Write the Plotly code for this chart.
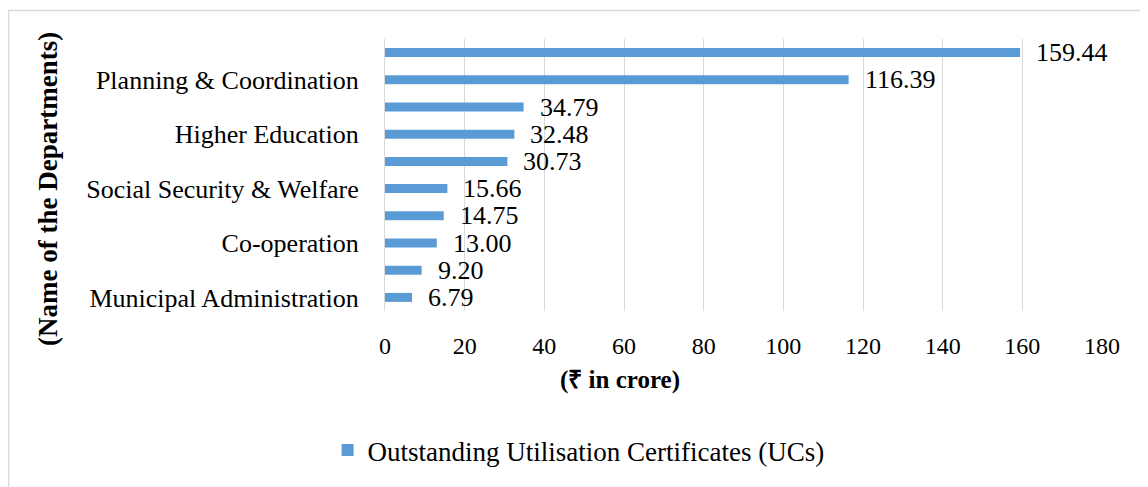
import plotly.graph_objects as go

# Data (top to bottom as in the chart); labels not printed on the axis are placeholders
departments = [
    "Department (label hidden) 1",
    "Planning & Coordination",
    "Department (label hidden) 2",
    "Higher Education",
    "Department (label hidden) 3",
    "Social Security & Welfare",
    "Department (label hidden) 4",
    "Co-operation",
    "Department (label hidden) 5",
    "Municipal Administration",
]
outstanding_ucs = [159.44, 116.39, 34.79, 32.48, 30.73, 15.66, 14.75, 13.00, 9.20, 6.79]
shown_labels = ["Planning & Coordination", "Higher Education", "Social Security & Welfare",
                "Co-operation", "Municipal Administration"]
x_ticks = [0, 20, 40, 60, 80, 100, 120, 140, 160, 180]

FONT = "Liberation Serif, Times New Roman, serif"
BAR = "#5b9bd5"

cats = departments[::-1]
vals = outstanding_ucs[::-1]

fig = go.Figure()
fig.add_trace(go.Bar(
    x=vals, y=cats, orientation="h", width=0.33,
    marker=dict(color=BAR, line=dict(width=0)),
    name="Outstanding Utilisation Certificates (UCs)",
))

for c, v in zip(cats, vals):
    fig.add_annotation(x=v, y=c, text=f"{v:.2f}", showarrow=False,
                       xanchor="left", yanchor="middle", xshift=14,
                       font=dict(family=FONT, size=26, color="#000"))

fig.update_xaxes(range=[0, 180], tickvals=x_ticks, showgrid=True, gridcolor="#d9d9d9",
                 gridwidth=1, zeroline=False, showline=False, automargin=False,
                 tickfont=dict(family=FONT, size=24, color="#000"), ticklabelstandoff=18)
fig.update_yaxes(categoryorder="array", categoryarray=cats, tickvals=shown_labels,
                 showgrid=False, showline=True, linecolor="#d9d9d9", linewidth=1,
                 automargin=False,
                 tickfont=dict(family=FONT, size=26, color="#000"), ticklabelstandoff=20,
                 range=[-0.5, 9.5])

fig.add_annotation(xref="paper", yref="paper", x=0.328, y=-0.255, text="<b>(₹ in crore)</b>",
                   xanchor="center", yanchor="middle",
                   showarrow=False, font=dict(family=FONT, size=25, color="#000"))
fig.add_annotation(xref="paper", yref="paper", x=-0.471, y=0.45,
                   xanchor="center", yanchor="middle",
                   text="<b>(Name of the Departments)</b>", textangle=-90,
                   showarrow=False, font=dict(family=FONT, size=27, color="#000"))

fig.add_shape(type="rect", xref="paper", yref="paper", x0=-0.525, x1=1.2, y0=-0.8, y1=1.105,
              line=dict(color="#d9d9d9", width=1.5), fillcolor="rgba(0,0,0,0)", layer="below")

fig.update_layout(
    width=1140, height=479,
    margin=dict(l=377, r=46, t=31, b=173),
    plot_bgcolor="white", paper_bgcolor="white",
    showlegend=True,
    legend=dict(orientation="h", x=0.270, y=-0.513, xanchor="center", yanchor="middle",
                font=dict(family=FONT, size=27, color="#000"), itemwidth=30),
    bargap=0.5,
)

fig.write_html("out.html")
